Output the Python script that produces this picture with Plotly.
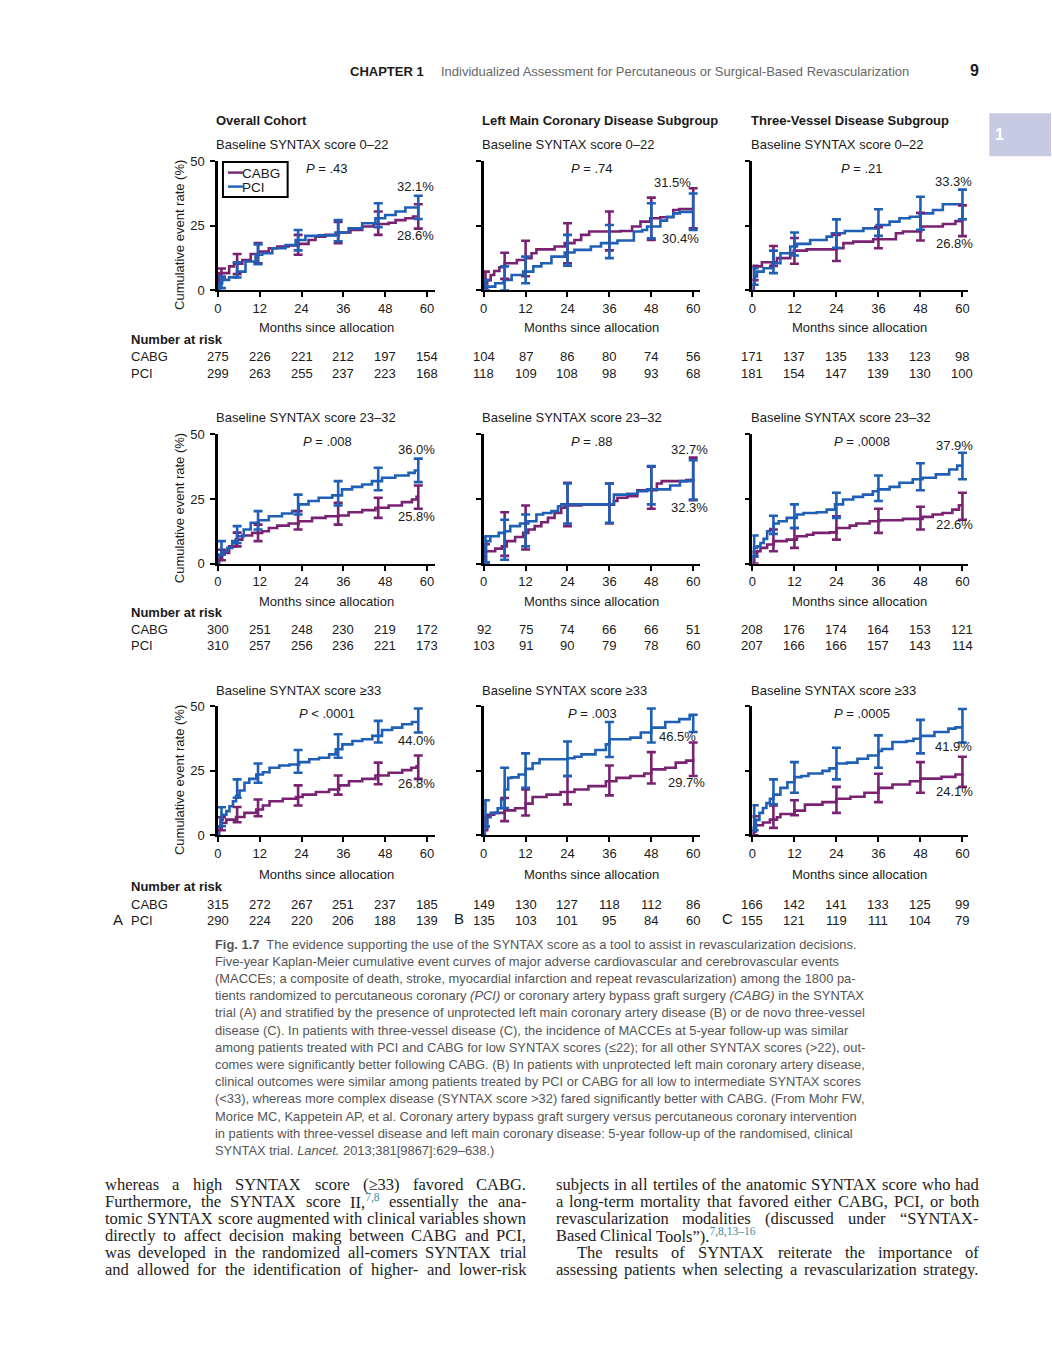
import plotly.graph_objects as go

W, H = 1052, 1346
SANS = "Liberation Sans, Arial, sans-serif"
SERIF = "Liberation Serif, Times New Roman, serif"
CABG_C = "#7a2272"
PCI_C = "#1f60b6"
TXT = "#1a1a1a"

# ---------------- DATA ----------------
MONTH_TICKS = [0, 12, 24, 36, 48, 60]
RATE_TICKS = [0, 25, 50]
A_CI_T = [1, 5.5, 11.5, 23, 34.5, 46, 57.5]
BC_CI_T = [0.5, 6, 12, 24, 36, 48, 60]

# Row 1: baseline SYNTAX score 0-22
A1_CABG = [(0, 0), (0.3, 6.7), (3.2, 9.3), (4.6, 10.3), (7, 11.8), (9.4, 14.1), (11.7, 15), (14.6, 16.3), (17, 17),
           (20.3, 17.4), (23.2, 18), (26, 19.5), (28, 20.8), (30.8, 21.5), (34.7, 22.4), (38, 23.4), (41.4, 24.7),
           (44.7, 25.7), (49, 26.2), (51, 27.2), (53.8, 27.9), (56, 28.6), (57.5, 28.6)]
A1_PCI = [(0, 0), (0.3, 2.8), (1.2, 4.1), (3.2, 5.1), (5.5, 7.3), (7.9, 11.2), (10.8, 13.8), (12.7, 14.4),
          (15.6, 16.3), (19.4, 17.6), (22.3, 19.5), (25.1, 21.1), (29, 21.3), (33.7, 22.4), (37.5, 24), (41.4, 26),
          (45.2, 27.9), (48, 29.2), (51, 30.5), (53.8, 32.1), (57.5, 32.1)]
A1_CABG_CI = [(5, 8.5), (6.3, 14.1), (10.5, 18.3), (13.8, 21.5), (18.3, 26.5), (21.5, 30.5), (23.9, 33.3)]
A1_PCI_CI = [(0.9, 5.4), (5, 10.9), (10.2, 17.8), (15.5, 23.4), (19, 27.2), (24.5, 33.7), (27.6, 36.6)]

B1_CABG = [(0, 0), (0.3, 2.5), (1, 4), (2, 6), (3, 7.5), (4.5, 9), (6, 10.5), (9.5, 11.8), (12, 12.5), (13.7, 14.4),
           (15.1, 15.9), (20.3, 17), (23.2, 18.3), (26, 19.5), (27.9, 21.5), (30.2, 22.8), (39.2, 23), (42.5, 24.7),
           (44.9, 26.6), (47.7, 27.9), (50.6, 28.3), (54.3, 31.1), (56, 31.5), (60, 31.5)]
B1_PCI = [(0, 0), (0.3, 1), (1, 1.5), (3.3, 2.8), (5.7, 4.1), (8, 6), (11.3, 7.3), (14.2, 9.3), (16.5, 10.5),
          (19.4, 13.1), (23.2, 14.7), (26, 15.7), (30.7, 17), (33.6, 18.3), (38.3, 19.3), (43, 22.8), (45.4, 23.4),
          (46.8, 24.7), (50.6, 27), (52.5, 28.5), (54.3, 29.8), (56.2, 30.4), (60, 30.4)]
B1_CABG_CI = [(0, 7.3), (4.5, 14.6), (5.5, 19.2), (10.5, 26), (15.5, 30.5), (19.5, 35.9), (24, 39.5)]
B1_PCI_CI = [(0, 4), (0, 9.3), (2.8, 13.1), (9.6, 21.5), (12.5, 25.3), (20.2, 33.7), (23.4, 37.5)]

C1_CABG = [(0, 0), (0.4, 9.3), (2.7, 10.9), (7, 12.5), (10.8, 14.4), (11.8, 15.4), (15.5, 15.9), (24, 16.3),
           (26, 18.3), (28.8, 18.9), (34.5, 19.8), (41, 22.1), (43, 22.8), (48.2, 24.7), (54.4, 25.7), (58, 26.8),
           (60, 26.8)]
C1_PCI = [(0, 0), (0.2, 2.2), (0.6, 5.4), (1.3, 7.3), (3.2, 8.6), (5.6, 10.5), (8, 14.4), (10.8, 17), (12.7, 18),
          (16.5, 19.5), (21.2, 20.8), (22.7, 22.1), (26.4, 23), (31.7, 24), (35.5, 25.3), (39.2, 26.6), (42, 27.9),
          (45, 28.5), (47.8, 29.8), (51.6, 31.1), (54.4, 33.3), (60, 33.3)]
C1_CABG_CI = [(4, 9.5), (9.5, 17.2), (10.3, 20.3), (11.4, 21.5), (16.3, 24.5), (19.3, 30), (21, 32.9)]
C1_PCI_CI = [(2.2, 8.6), (6.7, 15.4), (13.5, 22.4), (16.5, 27.5), (21.1, 31.4), (23.5, 36.2), (27.5, 39)]

# Row 2: baseline SYNTAX score 23-32
A2_CABG = [(0, 0), (0.3, 2.2), (1.2, 4.1), (3.2, 6.7), (5.1, 9.3), (7, 10.9), (9.8, 11.9), (12.7, 12.5),
           (14.6, 13.8), (17, 14.7), (20.3, 15.5), (23.2, 16.4), (27, 17.7), (30.9, 18.3), (34.7, 18.6),
           (37.5, 19.9), (41.4, 20.7), (45.2, 21.6), (49, 22.5), (52.8, 23.8), (55.7, 24.8), (57, 25.8), (57.5, 25.8)]
A2_PCI = [(0, 0), (0.3, 2.8), (1, 4.8), (2.7, 6.1), (4.1, 8.7), (5.5, 10.6), (7.4, 13.2), (9.4, 15.8), (11.7, 16.8),
          (14.6, 18.3), (18.4, 19.4), (21.3, 20.3), (23.2, 22.9), (26, 24.2), (28.9, 25.5), (32.8, 26.4),
          (35.6, 28.7), (38.5, 29.7), (41.4, 30.6), (44.2, 31.9), (47.1, 33.2), (50.9, 34.1), (54.7, 35.1),
          (56.5, 36), (57.5, 36)]
A2_CABG_CI = [(1.3, 5.4), (6.7, 12), (8.7, 15.1), (13.2, 20.3), (15.1, 23.5), (17.7, 25.5), (21.2, 30.2)]
A2_PCI_CI = [(3.5, 8.7), (8, 14.5), (13.2, 20.3), (19, 26.7), (22.5, 31.9), (28.4, 37.1), (31.5, 40.6)]

B2_CABG = [(0, 0), (0.3, 0.5), (0.7, 4.8), (3.3, 5.8), (5.2, 6.7), (6.6, 8.7), (9, 10.3), (11.3, 11.9), (12.8, 13.2),
           (14.6, 14.5), (16.5, 16), (18.4, 17.7), (20.3, 19.6), (22.2, 21.6), (23.2, 22.5), (28, 22.8), (37.3, 24.2),
           (38.3, 25.5), (41.1, 26.1), (44, 28.4), (49.6, 31), (51, 31.9), (58, 32.3), (60, 32.7)]
B2_PCI = [(0, 0), (0.3, 4.8), (0.7, 8.7), (1.9, 10.6), (4.3, 11.9), (6.1, 12.5), (7.6, 14.5), (10.4, 15.5),
          (12.8, 16.4), (15.1, 19), (17, 19.6), (19.4, 20.3), (21.3, 22.2), (22.2, 22.9), (37.3, 26.7), (41.1, 27),
          (44, 28), (46.8, 28.7), (53.4, 30.2), (56.2, 31.9), (59.1, 32.3), (60, 32.3)]
B2_CABG_CI = [(0, 7.5), (3, 19.9), (5.5, 22.5), (14.5, 31.3), (15.5, 31), (21.2, 37.5), (24.5, 41)]
B2_PCI_CI = [(0.5, 10.6), (1.5, 17), (6.7, 19), (15.5, 31), (15.8, 31), (22.9, 37.7), (24.8, 40)]

C2_CABG = [(0, 0), (0.4, 2.8), (1.3, 4.8), (2.3, 6.1), (4.2, 7.4), (6.1, 8.7), (9.8, 9.3), (12.7, 10.6), (15.5, 11.2),
           (17.4, 11.9), (22.1, 12.1), (24, 13.8), (27.8, 14.7), (29.7, 15.5), (33.5, 16.4), (36.3, 16.8), (43, 17.3),
           (48.6, 18.1), (51.5, 19), (54.3, 19.6), (57.1, 20.9), (59, 22.6), (60, 22.6)]
C2_PCI = [(0, 0), (0.2, 3), (0.4, 6.1), (1.3, 6.7), (2.3, 8), (3.2, 9.6), (4.2, 12.5), (5.1, 13.4), (6.1, 15.5),
          (7.5, 16.4), (9.8, 17.7), (12.7, 19), (14.6, 19.6), (18.4, 19.9), (21.2, 20.9), (23.6, 22.9), (25.9, 24.8),
          (28.8, 25.8), (31.6, 26.7), (34.4, 28), (35.9, 28.7), (39.2, 29.7), (42, 31.3), (45.8, 32.6), (48.6, 33.2),
          (52.4, 34.5), (56.2, 36.4), (58.5, 37.9), (60, 37.9)]
C2_CABG_CI = [(0, 4.5), (4.8, 13.2), (6.1, 13.8), (9.3, 18.3), (11.9, 21.2), (13.2, 22), (17, 27.4)]
C2_PCI_CI = [(2.8, 10.9), (11.5, 18.5), (13.8, 22.9), (17.7, 27.4), (24.2, 34.1), (28.4, 38.8), (32.6, 42.9)]

# Row 3: baseline SYNTAX score >=33
A3_CABG = [(0, 0), (0.3, 2.9), (1, 4.8), (2.4, 6.1), (5.2, 7.1), (7.6, 8.7), (11, 10), (12.9, 11.6), (14.8, 13.2),
           (18.6, 14.2), (22.4, 14.9), (24.3, 15.8), (28.1, 16.8), (31.9, 17.8), (34.8, 19.4), (37.6, 21),
           (41.4, 21.9), (45.2, 23.2), (49, 24.3), (52.9, 25.3), (55.5, 26.2), (57, 26.8), (57.5, 26.8)]
A3_PCI = [(0, 0), (0.3, 3.5), (0.7, 6.1), (1.4, 8), (2.4, 9.4), (3.3, 11.3), (4.3, 13.2), (5.2, 15.2), (6.2, 17.4),
          (7.6, 20.4), (9, 21.9), (11, 23.6), (12.9, 24.5), (14.8, 26.2), (17.6, 27.1), (20.5, 27.5), (23.3, 28.4),
          (26.2, 29.5), (29, 30.1), (31.9, 31.4), (33.8, 33.4), (35.7, 35.3), (38.6, 36.6), (41.4, 37.3),
          (44.3, 38.6), (47.1, 40.9), (50, 41.8), (52.9, 43.1), (55.7, 44), (57.5, 44)]
A3_CABG_CI = [(2, 7), (5.1, 11), (7.4, 13.9), (11.6, 19.4), (15.8, 23.2), (19.8, 28.2), (21.9, 31)]
A3_PCI_CI = [(3.5, 10.9), (14.6, 21.7), (20.4, 27.9), (24.3, 33.1), (30.1, 39.2), (36, 44.4), (39.9, 49.2)]

B3_CABG = [(0, 0), (0.3, 2), (1, 8), (3, 8.7), (6, 9.7), (9, 10.5), (12, 12.3), (14, 14.9), (18, 15.8), (22, 16.8),
           (26, 17.8), (30, 19.1), (35, 21), (38, 22.3), (42, 23), (46, 24), (48, 25.6), (52, 26.2), (55, 28.2),
           (58, 29), (60, 29.7)]
B3_PCI = [(0, 0), (0.3, 3), (1, 7), (2, 8.7), (4, 10.5), (5, 13.9), (6, 17.8), (7, 22.3), (8, 22.5), (10, 23.6),
          (12, 25.8), (14, 28), (16, 29.5), (24, 29.9), (26, 30.5), (28, 31.4), (32, 33.1), (35, 35.3), (36, 37.3),
          (42, 37.9), (45, 39.9), (48, 41.8), (52, 44), (56, 45.1), (59, 46.5), (60, 46.5)]
B3_CABG_CI = [(3.5, 7.4), (5.5, 14.5), (7.7, 17.8), (12, 23), (15.5, 27.1), (20.1, 32.3), (23, 36)]
B3_PCI_CI = [(3.5, 13.6), (10.6, 26.2), (18.4, 31.8), (23, 36.4), (30.4, 44), (36, 49.2), (40.1, 46.8)]

C3_CABG = [(0, 0), (0.3, 1.5), (1, 3.9), (3, 5), (5, 6.1), (7, 7), (8, 8.3), (12, 9.6), (15, 11.9), (20, 12.9),
           (24, 14.2), (28, 15), (32, 16.5), (36, 18.4), (40, 19.7), (45, 21), (48, 22), (54, 22.7), (58, 23.6),
           (60, 24.1)]
C3_PCI = [(0, 0), (0.3, 3), (1, 6), (2, 8.7), (3, 10.6), (4, 12.5), (5, 14.2), (6, 15.8), (8, 18.4), (10, 20.6),
          (12, 22.6), (14, 23), (16, 24), (20, 25), (22, 26), (24, 27.9), (27, 28.2), (30, 29.7), (33, 31), (36, 32.7),
          (37, 33.5), (40, 36.2), (44, 36.6), (46, 37.5), (48, 38.6), (52, 40.1), (56, 41.4), (58, 41.9), (60, 41.9)]
C3_CABG_CI = [(0, 7.4), (2.9, 11.6), (7.8, 13.6), (8.7, 18.8), (12.9, 23.9), (16.5, 28.4), (18.8, 30.5)]
C3_PCI_CI = [(2, 11.7), (12, 21.7), (16.5, 28.4), (21.7, 34), (26.2, 38.8), (31.8, 44.8), (36, 49)]

# Number at risk
A1_RISK_CABG = [275, 226, 221, 212, 197, 154]
A1_RISK_PCI = [299, 263, 255, 237, 223, 168]
B1_RISK_CABG = [104, 87, 86, 80, 74, 56]
B1_RISK_PCI = [118, 109, 108, 98, 93, 68]
C1_RISK_CABG = [171, 137, 135, 133, 123, 98]
C1_RISK_PCI = [181, 154, 147, 139, 130, 100]
A2_RISK_CABG = [300, 251, 248, 230, 219, 172]
A2_RISK_PCI = [310, 257, 256, 236, 221, 173]
B2_RISK_CABG = [92, 75, 74, 66, 66, 51]
B2_RISK_PCI = [103, 91, 90, 79, 78, 60]
C2_RISK_CABG = [208, 176, 174, 164, 153, 121]
C2_RISK_PCI = [207, 166, 166, 157, 143, 114]
A3_RISK_CABG = [315, 272, 267, 251, 237, 185]
A3_RISK_PCI = [290, 224, 220, 206, 188, 139]
B3_RISK_CABG = [149, 130, 127, 118, 112, 86]
B3_RISK_PCI = [135, 103, 101, 95, 84, 60]
C3_RISK_CABG = [166, 142, 141, 133, 125, 99]
C3_RISK_PCI = [155, 121, 119, 111, 104, 79]

P_VALUES = ["<i>P</i> = .43", "<i>P</i> = .74", "<i>P</i> = .21",
            "<i>P</i> = .008", "<i>P</i> = .88", "<i>P</i> = .0008",
            "<i>P</i> &lt; .0001", "<i>P</i> = .003", "<i>P</i> = .0005"]
END_TOP = ["32.1%", "31.5%", "33.3%", "36.0%", "32.7%", "37.9%", "44.0%", "46.5%", "41.9%"]
END_BOTTOM = ["28.6%", "30.4%", "26.8%", "25.8%", "32.3%", "22.6%", "26.8%", "29.7%", "24.1%"]
COL_TITLES = ["Overall Cohort", "Left Main Coronary Disease Subgroup", "Three-Vessel Disease Subgroup"]
ROW_SUBTITLES = ["Baseline SYNTAX score 0–22", "Baseline SYNTAX score 23–32", "Baseline SYNTAX score ≥33"]

# ---------------- LAYOUT HELPERS ----------------
# page rendering correction (measured): rendered_y = 6.7 + 0.99 * y
def px(x):
    return x / W


def py(y):
    return 1 - ((y - 6.7) / 0.99) / H


PAD = 4.5  # annotation text inset correction for left-anchored texts

COLS = [(215, 433, 3.5), (482, 699, 3.508), (752, 969, 3.517)]
ROWS = [(161, 290.5), (434.5, 564), (707, 836)]
ROW_TXT = [dict(sub=144, pv=168, mo=328, nar=340, cabg=357, pci=374),
           dict(sub=418, pv=442, mo=602, nar=613, cabg=630, pci=646),
           dict(sub=691, pv=714, mo=875, nar=887, cabg=905, pci=921)]
PV_X = [325, 591, 862]
MO_X = [324, 590, 860]
END_POS = [(413, 186, 413, 235), (672, 182, 680, 238), (954, 181, 955, 243),
           (414, 450, 414, 517), (689, 450, 689, 508), (955, 446, 955, 525),
           (414, 741, 414, 784), (677, 737, 686, 783), (954, 747, 955, 792)]

PANELS = [
    (A1_CABG, A1_PCI, A1_CABG_CI, A1_PCI_CI, A1_RISK_CABG, A1_RISK_PCI),
    (B1_CABG, B1_PCI, B1_CABG_CI, B1_PCI_CI, B1_RISK_CABG, B1_RISK_PCI),
    (C1_CABG, C1_PCI, C1_CABG_CI, C1_PCI_CI, C1_RISK_CABG, C1_RISK_PCI),
    (A2_CABG, A2_PCI, A2_CABG_CI, A2_PCI_CI, A2_RISK_CABG, A2_RISK_PCI),
    (B2_CABG, B2_PCI, B2_CABG_CI, B2_PCI_CI, B2_RISK_CABG, B2_RISK_PCI),
    (C2_CABG, C2_PCI, C2_CABG_CI, C2_PCI_CI, C2_RISK_CABG, C2_RISK_PCI),
    (A3_CABG, A3_PCI, A3_CABG_CI, A3_PCI_CI, A3_RISK_CABG, A3_RISK_PCI),
    (B3_CABG, B3_PCI, B3_CABG_CI, B3_PCI_CI, B3_RISK_CABG, B3_RISK_PCI),
    (C3_CABG, C3_PCI, C3_CABG_CI, C3_PCI_CI, C3_RISK_CABG, C3_RISK_PCI),
]

fig = go.Figure()
annotations = []
shapes = []


def txt(x, y, s, size=13, color=TXT, anchor="left", family=SANS, angle=0, xref="paper"):
    if xref == "paper":
        if anchor == "left":
            x -= PAD
        elif anchor == "right":
            x += PAD
        xv = px(x)
    else:
        xv = x
    annotations.append(dict(
        x=xv, y=py(y), xref=xref, yref="paper", text=s,
        showarrow=False, xanchor=anchor, yanchor="middle", textangle=angle,
        font=dict(size=size, color=color, family=family)))


layout_axes = {}
for i, (cabg, pci, cabg_ci, pci_ci, r_cabg, r_pci) in enumerate(PANELS):
    k = i + 1
    r, c = divmod(i, 3)
    x0, x1, sc = COLS[c]
    y0, y1 = ROWS[r]
    xa_name = "xaxis" if k == 1 else f"xaxis{k}"
    ya_name = "yaxis" if k == 1 else f"yaxis{k}"
    xr = "x" if k == 1 else f"x{k}"
    yr = "y" if k == 1 else f"y{k}"
    layout_axes[xa_name] = dict(
        domain=[px(x0), px(x1)], range=[0, (x1 - x0) / sc], anchor=yr,
        tickmode="array", tickvals=MONTH_TICKS, ticks="outside", ticklen=5, tickwidth=1.5,
        tickcolor="black", showline=True, linecolor="black", linewidth=2, showgrid=False,
        zeroline=False, tickfont=dict(size=13, color=TXT, family=SANS), fixedrange=True)
    layout_axes[ya_name] = dict(
        domain=[py(y1), py(y0)], range=[0, 50], anchor=xr,
        tickmode="array", tickvals=RATE_TICKS, ticks="outside", ticklen=5, tickwidth=1.5,
        tickcolor="black", showline=True, linecolor="black", linewidth=2.5, showgrid=False,
        zeroline=False, showticklabels=(c == 0), ticklabelstandoff=3,
        tickfont=dict(size=13, color=TXT, family=SANS), fixedrange=True)

    ci_t = A_CI_T if c == 0 else BC_CI_T
    for series, col in ((cabg, CABG_C), (pci, PCI_C)):
        fig.add_trace(go.Scatter(
            x=[p[0] for p in series], y=[p[1] for p in series], mode="lines",
            line=dict(shape="hv", color=col, width=2.6), xaxis=xr, yaxis=yr,
            showlegend=False, hoverinfo="skip", cliponaxis=False))
    for ci, col in ((cabg_ci, CABG_C), (pci_ci, PCI_C)):
        fig.add_trace(go.Scatter(
            x=ci_t, y=[(lo + hi) / 2 for lo, hi in ci], mode="markers",
            marker=dict(size=1, color=col),
            error_y=dict(type="data", symmetric=True, array=[(hi - lo) / 2 for lo, hi in ci],
                         color=col, thickness=2.6, width=4.5, visible=True),
            xaxis=xr, yaxis=yr, showlegend=False, hoverinfo="skip", cliponaxis=False))

    rt = ROW_TXT[r]
    txt(PV_X[c], rt["pv"], P_VALUES[i], anchor="center")
    tx, ty, bx, by = END_POS[i]
    txt(tx, ty, END_TOP[i], anchor="center")
    txt(bx, by, END_BOTTOM[i], anchor="center")
    for t, n in zip(MONTH_TICKS, r_cabg):
        txt(t, rt["cabg"], str(n), anchor="center", xref=xr)
    for t, n in zip(MONTH_TICKS, r_pci):
        txt(t, rt["pci"], str(n), anchor="center", xref=xr)
    txt(MO_X[c], rt["mo"], "Months since allocation", anchor="center")
    txt(x0 + 1, rt["sub"], ROW_SUBTITLES[r], anchor="left")

for r in range(3):
    rt = ROW_TXT[r]
    y0, y1 = ROWS[r]
    txt(177, (y0 + y1) / 2 + 9, "Cumulative event rate (%)", anchor="center", angle=-90)
    txt(130, rt["nar"], "<b>Number at risk</b>", anchor="left")
    txt(130, rt["cabg"], "CABG", anchor="left")
    txt(130, rt["pci"], "PCI", anchor="left")

for c in range(3):
    txt(COLS[c][0] + 1, 120, "<b>" + COL_TITLES[c] + "</b>", anchor="left")

txt(115, 920, "A", size=15, anchor="center")
txt(457, 919, "B", size=15, anchor="center")
txt(727, 919, "C", size=15, anchor="center")

# legend box in first panel
shapes.append(dict(type="rect", xref="paper", yref="paper", x0=px(220), x1=px(285), y0=py(197), y1=py(162),
                   line=dict(color="black", width=2), fillcolor="white"))
shapes.append(dict(type="line", xref="paper", yref="paper", x0=px(225), x1=px(240), y0=py(172.5), y1=py(172.5),
                   line=dict(color=CABG_C, width=2.4)))
shapes.append(dict(type="line", xref="paper", yref="paper", x0=px(225), x1=px(240), y0=py(186.5), y1=py(186.5),
                   line=dict(color=PCI_C, width=2.4)))
txt(242, 173, "CABG", size=13.5)
txt(242, 187, "PCI", size=13.5)

# page header
txt(350, 71, "<b>CHAPTER 1</b>", size=13)
txt(442, 71, "Individualized Assessment for Percutaneous or Surgical-Based Revascularization", size=13,
    color="#666666")
txt(975, 70, "<b>9</b>", size=16, anchor="center")
shapes.append(dict(type="rect", xref="paper", yref="paper", x0=px(990), x1=px(1052), y0=py(156), y1=py(113),
                   line=dict(width=0), fillcolor="#c8cae3"))
txt(1000, 134, "<b>1</b>", size=16, color="white", anchor="center")

# caption
CAPTION = [
    "<b>Fig. 1.7</b>  The evidence supporting the use of the SYNTAX score as a tool to assist in revascularization decisions.",
    "Five-year Kaplan-Meier cumulative event curves of major adverse cardiovascular and cerebrovascular events",
    "(MACCEs; a composite of death, stroke, myocardial infarction and repeat revascularization) among the 1800 pa-",
    "tients randomized to percutaneous coronary <i>(PCI)</i> or coronary artery bypass graft surgery <i>(CABG)</i> in the SYNTAX",
    "trial (A) and stratified by the presence of unprotected left main coronary artery disease (B) or de novo three-vessel",
    "disease (C). In patients with three-vessel disease (C), the incidence of MACCEs at 5-year follow-up was similar",
    "among patients treated with PCI and CABG for low SYNTAX scores (≤22); for all other SYNTAX scores (&gt;22), out-",
    "comes were significantly better following CABG. (B) In patients with unprotected left main coronary artery disease,",
    "clinical outcomes were similar among patients treated by PCI or CABG for all low to intermediate SYNTAX scores",
    "(&lt;33), whereas more complex disease (SYNTAX score &gt;32) fared significantly better with CABG. (From Mohr FW,",
    "Morice MC, Kappetein AP, et al. Coronary artery bypass graft surgery versus percutaneous coronary intervention",
    "in patients with three-vessel disease and left main coronary disease: 5-year follow-up of the randomised, clinical",
    "SYNTAX trial. <i>Lancet.</i> 2013;381[9867]:629–638.)",
]
for j, line in enumerate(CAPTION):
    txt(215, 945 + j * 17.2, line, size=12.9, color="#555555")

# body text (justified using Times metrics, Liberation Serif is metric-compatible)
TIMES = {" ": 250, "(": 333, ")": 333, ",": 250, "-": 333, ".": 250, ":": 278, ";": 278, "“": 444, "”": 444,
         "–": 500, "≥": 549, "'": 180,
         "A": 722, "B": 667, "C": 667, "D": 722, "E": 611, "F": 556, "G": 722, "H": 722, "I": 333, "J": 389,
         "K": 722, "L": 611, "M": 889, "N": 722, "O": 722, "P": 556, "Q": 722, "R": 667, "S": 556, "T": 611,
         "U": 722, "V": 722, "W": 944, "X": 722, "Y": 722, "Z": 611,
         "a": 444, "b": 500, "c": 444, "d": 500, "e": 444, "f": 333, "g": 500, "h": 500, "i": 278, "j": 278,
         "k": 500, "l": 278, "m": 778, "n": 500, "o": 500, "p": 500, "q": 500, "r": 333, "s": 389, "t": 278,
         "u": 500, "v": 500, "w": 722, "x": 500, "y": 500, "z": 444}
BODY_SIZE = 16.5
SUP = '<sup><span style="color:#3a8ca0">{}</span></sup>'


def tw(s, size):
    return sum(TIMES.get(ch, 500) for ch in s) * size / 1000.0


def word_parts(w):
    if "^" in w:
        main, sup = w.split("^", 1)
        return main, sup
    return w, ""


def body_line(x_left, x_right, y, line, justify):
    words = line.split(" ")
    widths = []
    for w in words:
        main, sup = word_parts(w)
        widths.append(tw(main, BODY_SIZE) + tw(sup, BODY_SIZE * 0.7))
    if justify and len(words) > 1:
        gap = (x_right - x_left - sum(widths)) / (len(words) - 1)
    else:
        gap = BODY_SIZE * 0.25
    x = x_left
    for w, wd in zip(words, widths):
        main, sup = word_parts(w)
        s = main + (SUP.format(sup) if sup else "")
        annotations.append(dict(
            x=px(x - PAD), y=py(y), xref="paper", yref="paper", text=s, showarrow=False,
            xanchor="left", yanchor="middle", font=dict(size=BODY_SIZE, color="#222222", family=SERIF)))
        x += wd + gap


BODY_LEFT = [
    "whereas a high SYNTAX score (≥33) favored CABG.",
    "Furthermore, the SYNTAX score II,^7,8 essentially the ana-",
    "tomic SYNTAX score augmented with clinical variables shown",
    "directly to affect decision making between CABG and PCI,",
    "was developed in the randomized all-comers SYNTAX trial",
    "and allowed for the identification of higher- and lower-risk",
]
BODY_RIGHT = [
    "subjects in all tertiles of the anatomic SYNTAX score who had",
    "a long-term mortality that favored either CABG, PCI, or both",
    "revascularization modalities (discussed under “SYNTAX-",
    "Based Clinical Tools”).^7,8,13–16",
    "The results of SYNTAX reiterate the importance of",
    "assessing patients when selecting a revascularization strategy.",
]
for j, line in enumerate(BODY_LEFT):
    body_line(104, 527, 1186 + j * 17, line, True)
for j, line in enumerate(BODY_RIGHT):
    body_line(578 if j == 4 else 557, 982, 1186 + j * 17, line, j != 3)

fig.update_layout(
    width=W, height=H, margin=dict(l=0, r=0, t=0, b=0), autosize=False,
    paper_bgcolor="white", plot_bgcolor="white", showlegend=False,
    annotations=annotations, shapes=shapes, **layout_axes)

fig.write_html("out.html", config={"displayModeBar": False},
               post_script="document.body.style.margin='0';document.body.style.overflow='hidden';")
